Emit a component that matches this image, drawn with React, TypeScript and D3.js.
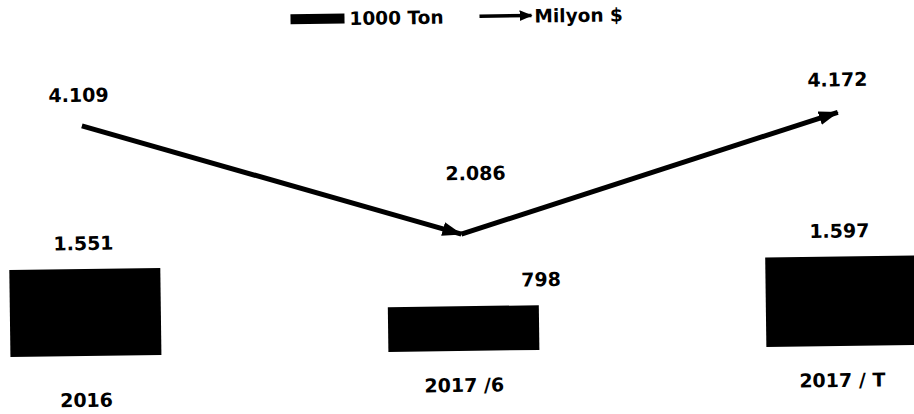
import React, { useEffect, useRef } from "react";
import * as d3 from "d3";

// chart data
const categories = ["2016", "2017 /6", "2017 / T"];
const tonValues = [1551, 798, 1597]; // 1000 Ton
const dollarValues = [4109, 2086, 4172]; // Milyon $
const tonLabels = ["1.551", "798", "1.597"];
const dollarLabels = ["4.109", "2.086", "4.172"];

// label nudges (layout only)
const tonLabelDx = [0, 79, 0];
const dollarLabelDx = [-3, 15, 0];
const dollarLabelDy = [-24, -54, -26];
const catLabelDy = [7, -3, -3];

const W = 914;
const H = 414;
const FONT = "'DejaVu Sans', sans-serif";

export default function App() {
  const ref = useRef<SVGSVGElement>(null);

  useEffect(() => {
    var svg = d3.select(ref.current);
    svg.selectAll("*").remove();

    var defs = svg.append("defs");
    defs
      .append("marker")
      .attr("id", "arrow")
      .attr("viewBox", "0 0 20 14")
      .attr("refX", 19)
      .attr("refY", 7)
      .attr("markerWidth", 20)
      .attr("markerHeight", 14)
      .attr("markerUnits", "userSpaceOnUse")
      .attr("orient", "auto")
      .append("path")
      .attr("d", "M0,0L20,7L0,14Z")
      .attr("fill", "#000");
    defs
      .append("marker")
      .attr("id", "arrowSmall")
      .attr("viewBox", "0 0 12 10")
      .attr("refX", 11)
      .attr("refY", 5)
      .attr("markerWidth", 13)
      .attr("markerHeight", 11)
      .attr("markerUnits", "userSpaceOnUse")
      .attr("orient", "auto")
      .append("path")
      .attr("d", "M0,0L12,5L0,10Z")
      .attr("fill", "#000");

    // the scan is tilted slightly
    var g = svg.append("g").attr("transform", "rotate(-0.757, 457, 207)");

    var x = d3.scalePoint().domain(categories).range([83, 839]);
    var y = d3.scaleLinear().domain([0, 5000]).range([351, 71]);
    var barW = 151;

    // bars
    g.selectAll(".bar")
      .data(tonValues)
      .enter()
      .append("rect")
      .attr("class", "bar")
      .attr("x", (d, i) => (x(categories[i]) as number) - barW / 2 + 1)
      .attr("y", d => y(d))
      .attr("width", barW)
      .attr("height", d => y(0) - y(d))
      .attr("fill", "#000");

    g.selectAll(".barLabel")
      .data(tonValues)
      .enter()
      .append("text")
      .attr("class", "barLabel")
      .attr("x", (d, i) => (x(categories[i]) as number) + tonLabelDx[i])
      .attr("y", d => y(d) - 19)
      .attr("text-anchor", "middle")
      .attr("font-family", FONT)
      .attr("font-weight", "bold")
      .attr("font-size", 19)
      .text((d, i) => tonLabels[i]);

    // line segments with arrows
    var pts = dollarValues.map((v, i) => [x(categories[i]) as number, y(v)]);
    var segs = d3.pairs(pts);
    g.selectAll(".seg")
      .data(segs)
      .enter()
      .append("line")
      .attr("class", "seg")
      .attr("x1", d => d[0][0])
      .attr("y1", d => d[0][1])
      .attr("x2", d => d[1][0])
      .attr("y2", d => d[1][1])
      .attr("stroke", "#000")
      .attr("stroke-width", 5)
      .attr("marker-end", "url(#arrow)");

    g.selectAll(".lineLabel")
      .data(dollarValues)
      .enter()
      .append("text")
      .attr("class", "lineLabel")
      .attr("x", (d, i) => (x(categories[i]) as number) + dollarLabelDx[i])
      .attr("y", (d, i) => y(d) + dollarLabelDy[i])
      .attr("text-anchor", "middle")
      .attr("font-family", FONT)
      .attr("font-weight", "bold")
      .attr("font-size", 19)
      .text((d, i) => dollarLabels[i]);

    // category labels
    g.selectAll(".cat")
      .data(categories)
      .enter()
      .append("text")
      .attr("class", "cat")
      .attr("x", d => (x(d) as number) + 1)
      .attr("y", (d, i) => 395 + catLabelDy[i])
      .attr("text-anchor", "middle")
      .attr("font-family", FONT)
      .attr("font-weight", "bold")
      .attr("font-size", 19)
      .text(d => d);

    // legend
    var lg = g.append("g");
    lg.append("rect")
      .attr("x", 293)
      .attr("y", 12)
      .attr("width", 54)
      .attr("height", 10)
      .attr("fill", "#000");
    lg.append("text")
      .attr("x", 352)
      .attr("y", 23.5)
      .attr("font-family", FONT)
      .attr("font-weight", "bold")
      .attr("font-size", 18.5)
      .text("1000 Ton");
    lg.append("line")
      .attr("x1", 482)
      .attr("y1", 16.5)
      .attr("x2", 534)
      .attr("y2", 16.5)
      .attr("stroke", "#000")
      .attr("stroke-width", 3.5)
      .attr("marker-end", "url(#arrowSmall)");
    lg.append("text")
      .attr("x", 537)
      .attr("y", 23.5)
      .attr("font-family", FONT)
      .attr("font-weight", "bold")
      .attr("font-size", 18.5)
      .text("Milyon $");
  }, []);

  return (
    <svg
      ref={ref}
      width={W}
      height={H}
      style={{ position: "absolute", left: 0, top: 0, display: "block", background: "#fff" }}
    />
  );
}
